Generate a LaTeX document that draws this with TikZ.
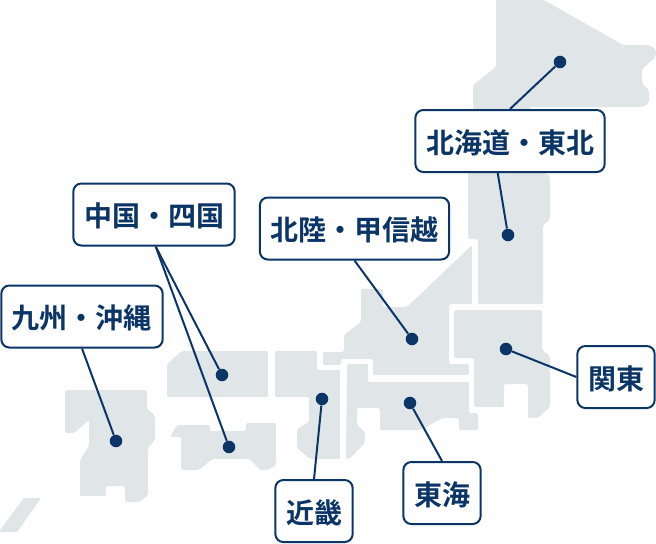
\documentclass[tikz,border=0pt]{standalone}
\usepackage{fontspec}
\setmainfont{Noto Sans CJK JP}[BoldFont={Noto Sans CJK JP Bold}]
\definecolor{navy}{HTML}{0B3566}
\definecolor{landgray}{HTML}{E0E5E7}
\tikzset{
  landmass/.style={fill=landgray, rounded corners=1.5},
  regionbox/.style={draw=navy, line width=1.5pt, rounded corners=6, fill=white, text=navy, font=\fontsize{21}{24}\selectfont\bfseries, inner sep=0pt, text height=20pt, text depth=2pt, minimum height=46.5pt},
  spot/.style={circle, fill=navy, inner sep=0pt, minimum size=9.4pt},
  link/.style={draw=navy, line width=1.5pt}
}
\begin{document}
\begin{tikzpicture}[x=0.75pt, y=-0.75pt]
\useasboundingbox (0,0) rectangle (656,543);

% land
\fill[landmass] (496,0) -- (544,0) -- (623,45) -- (650,45) -- (656,50) -- (656,57) -- (642,69) -- (642,84) -- (649,90) -- (649,103) -- (643,107) -- (530,107) -- (530,110) -- (473,110) -- (473,85) -- (496,67) -- cycle;
\fill[landmass] (468,165) -- (540,165) -- (540,173) -- (547,173) -- (550,177) -- (550,220) -- (543,225) -- (543,304) -- (478,304) -- (478,239) -- (468,239) -- cycle;
\fill[landmass] (472,245) -- (472,304) -- (449,304) -- (449,364) -- (469,364) -- (469,375) -- (373,375) -- (373,359) -- (341,359) -- (341,365) -- (323,365) -- (323,352) -- (344,352) -- (344,335) -- (361,322) -- (361,289) -- (383,289) -- (383,307) -- (407,307) -- cycle;
\fill[landmass] (454,310) -- (542,310) -- (542,350) -- (550,356) -- (550,407) -- (538,418) -- (528,418) -- (528,384) -- (504,384) -- (504,407) -- (474,407) -- (474,358) -- (454,358) -- cycle;
\fill[landmass] (347,364) -- (368,364) -- (368,382) -- (469,382) -- (469,413) -- (478,413) -- (478,430) -- (459,430) -- (459,418) -- (443,418) -- (420,430) -- (380,430) -- (380,408) -- (357,408) -- (357,425) -- (365,432) -- (365,443) -- (349,459) -- (346,459) -- cycle;
\fill[landmass] (275,351) -- (317,351) -- (317,370) -- (340,370) -- (340,459) -- (310,459) -- (297,448) -- (297,429) -- (309,422) -- (309,397) -- (275,397) -- cycle;
\fill[landmass] (182,351) -- (268,351) -- (268,397) -- (167,397) -- (167,364) -- cycle;
\fill[landmass] (170,437) -- (177,425) -- (210,425) -- (210,431) -- (246,431) -- (246,423) -- (276,423) -- (276,465) -- (268,470) -- (260,470) -- (250,459) -- (212,459) -- (199,470) -- (181,470) -- (181,437) -- cycle;
\fill[landmass] (65,390) -- (147,390) -- (147,409) -- (155,415) -- (155,440) -- (148,447) -- (148,495) -- (140,502) -- (125,502) -- (125,486) -- (106,486) -- (106,496) -- (80,496) -- (80,460) -- (89,446) -- (89,420) -- (74,433) -- (65,433) -- cycle;
\fill[landgray] (24,498) -- (41,498) -- (17,532) -- (0,532) -- (0,530) -- cycle;

\node[spot] (hokkaidospot) at (560,62) {};
\node[spot] (tohokuspot) at (508,235) {};
\node[spot] (chubuspot) at (412,339) {};
\node[spot] (kantospot) at (506,349) {};
\node[spot] (tokaispot) at (410,403) {};
\node[spot] (kinkispot) at (322,399) {};
\node[spot] (chugokuspot) at (222,375) {};
\node[spot] (shikokuspot) at (229,447) {};
\node[spot] (kyushuspot) at (116,441) {};

\node[regionbox, minimum width=142pt] (tohokubox) at (510,141) {北海道・東北};
\node[regionbox, minimum width=121pt] (chugokubox) at (154,214.5) {中国・四国};
\node[regionbox, minimum width=142pt] (chububox) at (354.5,228.5) {北陸・甲信越};
\node[regionbox, minimum width=121pt] (kyushubox) at (82,316.5) {九州・沖縄};
\node[regionbox, minimum width=58pt] (kantobox) at (616,377) {関東};
\node[regionbox, minimum width=58pt] (tokaibox) at (442,493) {東海};
\node[regionbox, minimum width=58pt] (kinkibox) at (314,511) {近畿};

% connectors
\draw[link] (tohokubox.north) -- (hokkaidospot);
\draw[link] (tohokubox.249) -- (tohokuspot);
\draw[link] (chugokubox.-87) -- (chugokuspot);
\draw[link] (chugokubox.-87) -- (shikokuspot);
\draw[link] (chububox.south) -- (chubuspot);
\draw[link] (kyushubox.south) -- (kyushuspot);
\draw[link] (kantobox.west) -- (kantospot);
\draw[link] (tokaibox.north) -- (tokaispot);
\draw[link] (kinkibox.north) -- (kinkispot);

\end{tikzpicture}
\end{document}
